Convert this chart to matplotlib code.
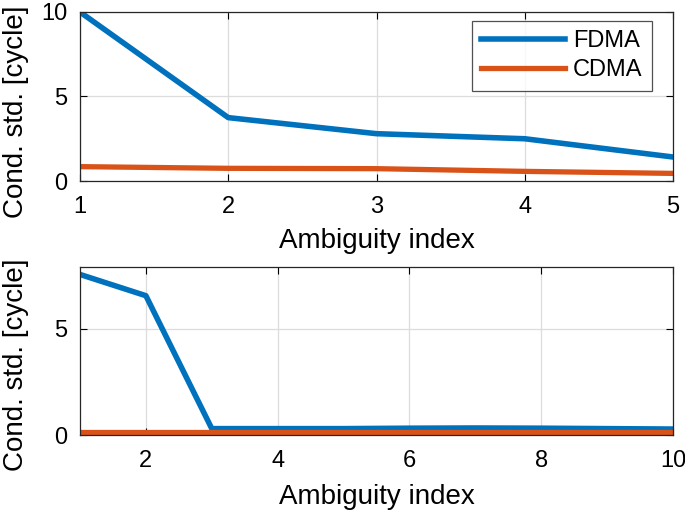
import matplotlib
matplotlib.use("Agg")
import matplotlib.pyplot as plt

plt.rcParams['font.family'] = ['Liberation Sans', 'DejaVu Sans']

x_top = [1, 2, 3, 4, 5]
fdma_top = [10.0, 3.75, 2.8, 2.5, 1.42]
cdma_top = [0.85, 0.75, 0.73, 0.57, 0.45]

x_bot = [1, 2, 3, 4, 5, 6, 7, 8, 9, 10]
fdma_bot = [7.55, 6.55, 0.3, 0.3, 0.3, 0.32, 0.33, 0.32, 0.3, 0.28]
cdma_bot = [0.12, 0.12, 0.12, 0.12, 0.12, 0.12, 0.12, 0.12, 0.12, 0.12]

BLUE = '#0072BD'
ORANGE = '#D95319'

fig = plt.figure(figsize=(6.85, 5.11), dpi=100)
ax1 = fig.add_axes([80/685, 1-181/511, 593/685, 169/511])
ax2 = fig.add_axes([80/685, 1-435/511, 593/685, 168/511])

def style(ax, ylab_y, xlab_y):
    ax.grid(True, color='#dcdcdc', linewidth=0.9)
    ax.set_axisbelow(True)
    ax.tick_params(direction='in', top=True, right=True, labelsize=17, length=5,
                   width=0.8, colors='black')
    ax.tick_params(axis='x', pad=11)
    ax.tick_params(axis='y', pad=9)
    for s in ax.spines.values():
        s.set_linewidth(0.9)
        s.set_color('#262626')
    ax.set_xlabel('Ambiguity index', fontsize=20)
    ax.set_ylabel('Cond. std. [cycle]', fontsize=20)
    ax.yaxis.set_label_coords(-0.086, ylab_y)
    ax.xaxis.set_label_coords(0.5, xlab_y)

ax1.plot(x_top, fdma_top, color=BLUE, lw=4.0, label='FDMA')
ax1.plot(x_top, cdma_top, color=ORANGE, lw=3.8, label='CDMA')
ax1.set_xlim(1, 5)
ax1.set_ylim(0, 10)
ax1.set_xticks([1, 2, 3, 4, 5])
ax1.set_yticks([0, 5, 10])
style(ax1, 0.41, -0.28)
leg = ax1.legend(loc='upper right', bbox_to_anchor=(0.9646, 0.947), fontsize=17,
                 handlelength=3.55, frameon=True, fancybox=False, edgecolor='#262626',
                 borderpad=0.4, labelspacing=0.3, handletextpad=0.35, borderaxespad=0)
leg.get_frame().set_linewidth(0.9)

ax2.plot(x_bot, fdma_bot, color=BLUE, lw=4.0, label='FDMA')
ax2.plot(x_bot, cdma_bot, color=ORANGE, lw=3.8, label='CDMA')
ax2.set_xlim(1, 10)
ax2.set_ylim(0, 7.9)
ax2.set_xticks([2, 4, 6, 8, 10])
ax2.set_yticks([0, 5])
style(ax2, 0.42, -0.29)

fig.savefig('out.png', dpi=100)
